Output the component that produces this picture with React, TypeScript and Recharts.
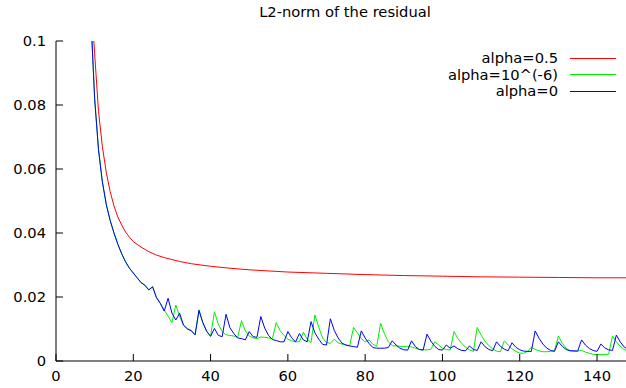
import React from 'react';
import { LineChart, Line, XAxis, YAxis, Legend } from 'recharts';

// iterations shared by the two oscillating runs
const iterations = Array.from({ length: 140 }, (_, i) => i + 9);

const commonStart = [
  0.108, 0.082, 0.066, 0.056, 0.049, 0.044, 0.040, 0.0365, 0.0335, 0.031,
  0.029, 0.0275, 0.026, 0.0245, 0.0237, 0.0222, 0.0232, 0.0198,
];

const blueTail = [
  0.0180, 0.0156, 0.0196, 0.0150, 0.0128, 0.0149, 0.0112, 0.0100, 0.0094, 0.0082,
  0.0158, 0.0120, 0.0093, 0.0077, 0.0102, 0.0080, 0.0076, 0.0146, 0.0104, 0.0086,
  0.0072, 0.0070, 0.0066, 0.0092, 0.0076, 0.0074, 0.0139, 0.0103, 0.0080, 0.0067,
  0.0064, 0.0060, 0.0060, 0.0092, 0.0072, 0.0060, 0.0086, 0.0066, 0.0060, 0.0123,
  0.0088, 0.0068, 0.0052, 0.0050, 0.0132, 0.0096, 0.0072, 0.0056, 0.0050, 0.0047,
  0.0045, 0.0043, 0.0094, 0.0072, 0.0055, 0.0042, 0.0040, 0.0040, 0.0040, 0.0042,
  0.0063, 0.0050, 0.0040, 0.0035, 0.0034, 0.0063, 0.0045, 0.0036, 0.0034, 0.0084,
  0.0062, 0.0046, 0.0036, 0.0034, 0.0050, 0.0040, 0.0047, 0.0038, 0.0033, 0.0032,
  0.0047, 0.0036, 0.0033, 0.0060, 0.0045, 0.0036, 0.0032, 0.0060, 0.0046, 0.0037,
  0.0032, 0.0057, 0.0043, 0.0035, 0.0031, 0.0030, 0.0030, 0.0094, 0.0071, 0.0053,
  0.0040, 0.0033, 0.0030, 0.0060, 0.0046, 0.0036, 0.0032, 0.0032, 0.0031, 0.0066,
  0.0050, 0.0039, 0.0033, 0.0030, 0.0053, 0.0041, 0.0035, 0.0033, 0.0081, 0.0060,
  0.0044, 0.0035,
];

const greenTail = [
  0.0180, 0.0160, 0.0140, 0.0120, 0.0175, 0.0139, 0.0112, 0.0102, 0.0096, 0.0082,
  0.0160, 0.0118, 0.0092, 0.0078, 0.0154, 0.0115, 0.0092, 0.0082, 0.0080, 0.0078,
  0.0074, 0.0126, 0.0094, 0.0078, 0.0072, 0.0070, 0.0075, 0.0074, 0.0072, 0.0070,
  0.0120, 0.0095, 0.0080, 0.0068, 0.0063, 0.0060, 0.0060, 0.0090, 0.0068, 0.0058,
  0.0144, 0.0105, 0.0072, 0.0058, 0.0055, 0.0068, 0.0057, 0.0053, 0.0050, 0.0048,
  0.0105, 0.0088, 0.0070, 0.0060, 0.0066, 0.0052, 0.0046, 0.0118, 0.0085, 0.0060,
  0.0048, 0.0047, 0.0046, 0.0045, 0.0046, 0.0044, 0.0040, 0.0036, 0.0035, 0.0035,
  0.0036, 0.0060, 0.0050, 0.0040, 0.0036, 0.0034, 0.0092, 0.0070, 0.0055, 0.0043,
  0.0035, 0.0030, 0.0105, 0.0081, 0.0062, 0.0048, 0.0038, 0.0031, 0.0029, 0.0063,
  0.0050, 0.0038, 0.0030, 0.0025, 0.0024, 0.0030, 0.0043, 0.0036, 0.0032, 0.0029,
  0.0029, 0.0030, 0.0033, 0.0078, 0.0055, 0.0040, 0.0032, 0.0030, 0.0031, 0.0033,
  0.0028, 0.0024, 0.0021, 0.0020, 0.0020, 0.0020, 0.0021, 0.0078, 0.0060, 0.0046,
  0.0036, 0.0030,
];

const alpha0 = [...commonStart, ...blueTail];
const alphaSmall = [...commonStart, ...greenTail];

// alpha=0.5 is smooth, read at fewer points
const redX = [9, 10, 11, 12, 13, 14, 15, 16, 17, 18, 19, 20, 22, 24, 26, 28, 30, 32, 35, 40, 45, 50, 60, 70, 80, 90, 100, 110, 120, 130, 140, 148];
const redY = [
  0.116, 0.096, 0.078, 0.067, 0.059, 0.053, 0.0485, 0.045, 0.0425, 0.0403, 0.0387, 0.0373,
  0.0356, 0.0342, 0.0331, 0.0323, 0.0317, 0.0311, 0.0304, 0.0296, 0.029, 0.0285, 0.0278,
  0.0274, 0.027, 0.0267, 0.0265, 0.0263, 0.0262, 0.0261, 0.026, 0.026,
];

const xTicks = [0, 20, 40, 60, 80, 100, 120, 140];
const yTicks = [0, 0.02, 0.04, 0.06, 0.08, 0.1];

const series = [
  { name: 'alpha=0.5', color: '#ff0000' },
  { name: 'alpha=10^(-6)', color: '#00ee00' },
  { name: 'alpha=0', color: '#0000ff' },
];

const redData = redX.map((x, i) => ({ x, v: redY[i] }));
const greenData = iterations.map((x, i) => ({ x, v: alphaSmall[i] }));
const blueData = iterations.map((x, i) => ({ x, v: alpha0[i] }));

const FS = 14.7;
const font = { fontFamily: 'DejaVu Sans', fontSize: FS, fill: '#000' };

const LegendBox = () => (
  <div style={{ fontFamily: 'DejaVu Sans', fontSize: FS, color: '#000', lineHeight: '16.5px' }}>
    {series.map((s) => (
      <div key={s.name} style={{ display: 'flex', justifyContent: 'flex-end', alignItems: 'center', height: 16.5 }}>
        <span>{s.name}</span>
        <span style={{ display: 'inline-block', width: 46, borderTop: `1px solid ${s.color}`, marginLeft: 12, marginRight: 4 }} />
      </div>
    ))}
  </div>
);

export default function App() {
  return (
    <div style={{ position: 'absolute', left: 0, top: 0, width: 626, height: 388, background: '#fff' }}>
      <div style={{ position: 'absolute', left: 345, top: 3, transform: 'translateX(-50%)', fontFamily: 'DejaVu Sans', fontSize: FS, whiteSpace: 'nowrap' }}>
        L2-norm of the residual
      </div>
      <LineChart width={626} height={388} margin={{ top: 41, right: 0, left: 0, bottom: 0 }}>
        <XAxis
          xAxisId="b"
          type="number"
          dataKey="x"
          domain={[0, 147.5]}
          allowDataOverflow
          ticks={xTicks}
          height={27}
          tickSize={-7}
          tickMargin={17}
          tick={font}
          stroke="#000"
        />
        <XAxis
          xAxisId="t"
          orientation="top"
          type="number"
          dataKey="x"
          domain={[0, 147.5]}
          allowDataOverflow
          ticks={xTicks}
          height={0}
          tickSize={-7}
          tick={false}
          stroke="#000"
        />
        <YAxis
          type="number"
          domain={[0, 0.1]}
          allowDataOverflow
          ticks={yTicks}
          width={56}
          tickSize={-7}
          tickMargin={17}
          tick={font}
          stroke="#000"
        />
        <Legend
          layout="vertical"
          align="center"
          verticalAlign="middle"
          content={() => <LegendBox />}
          wrapperStyle={{ left: 330, top: 50, width: 290 }}
        />
        <Line xAxisId="b" data={redData} dataKey="v" name={series[0].name} stroke={series[0].color} strokeWidth={1} dot={false} isAnimationActive={false} />
        <Line xAxisId="b" data={greenData} dataKey="v" name={series[1].name} stroke={series[1].color} strokeWidth={1} dot={false} isAnimationActive={false} />
        <Line xAxisId="b" data={blueData} dataKey="v" name={series[2].name} stroke={series[2].color} strokeWidth={1} dot={false} isAnimationActive={false} />
      </LineChart>
    </div>
  );
}
